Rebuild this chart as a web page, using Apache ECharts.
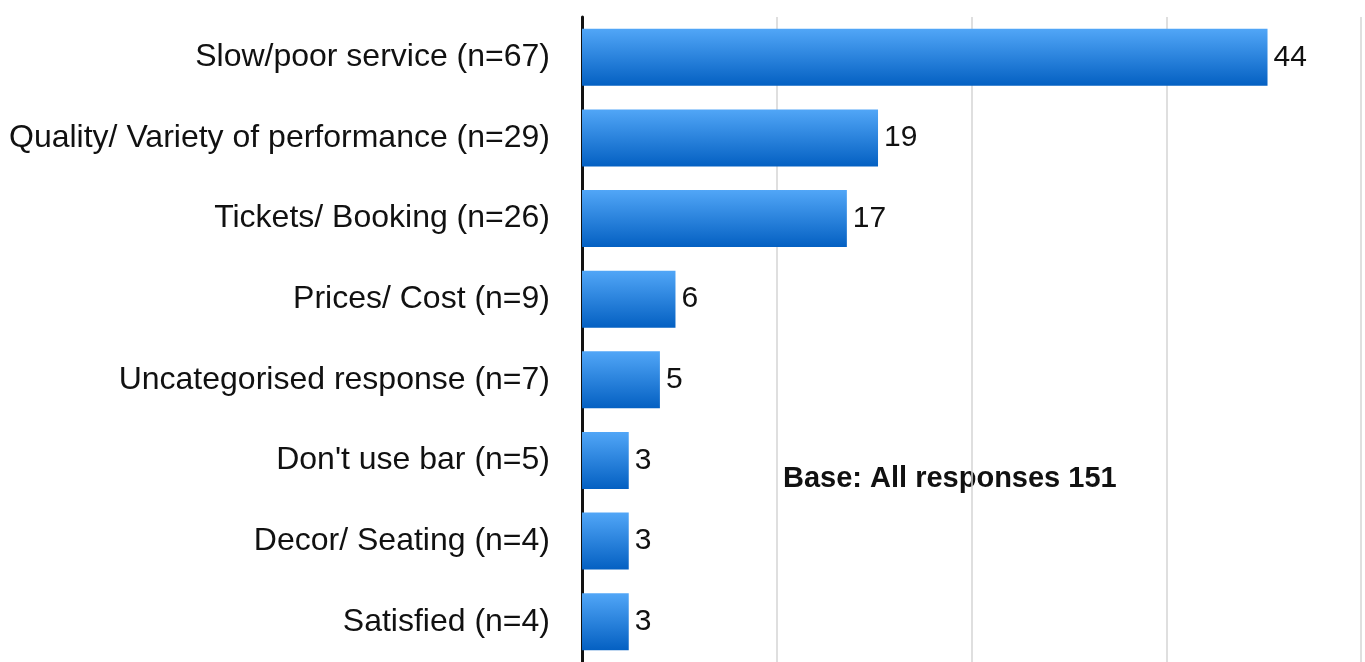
<!DOCTYPE html>
<html>
<head>
<meta charset="utf-8">
<script src="https://cdn.jsdelivr.net/npm/echarts@6/dist/echarts.min.js"></script>
<style>
  html, body { margin: 0; padding: 0; background: #fff; }
  #chart { width: 1365px; height: 662px; }
</style>
</head>
<body>
<div id="chart"></div>
<script>
// categories from top to bottom
const categories = [
  'Slow/poor service (n=67)',
  'Quality/ Variety of performance (n=29)',
  'Tickets/ Booking (n=26)',
  'Prices/ Cost (n=9)',
  'Uncategorised response (n=7)',
  "Don't use bar (n=5)",
  'Decor/ Seating (n=4)',
  'Satisfied (n=4)'
]
const values = [44, 19, 17, 6, 5, 3, 3, 3]
const baseNote = 'Base: All responses 151'

const chart = echarts.init(document.getElementById('chart'))
chart.setOption({
  animation: false,
  textStyle: { fontFamily: '"Liberation Sans", Arial, sans-serif' },
  grid: {
    left: 582,
    right: 4,
    top: 17,
    bottom: -4,
    containLabel: false
  },
  xAxis: {
    type: 'value',
    min: 0,
    max: 50,
    interval: 12.5,
    axisLabel: { show: false },
    axisTick: { show: false },
    axisLine: { show: false },
    splitLine: {
      lineStyle: { color: '#d4d4d4', width: 1.5 }
    }
  },
  yAxis: {
    type: 'category',
    inverse: true,
    data: categories,
    axisTick: { show: false },
    axisLine: {
      lineStyle: { color: '#111', width: 3 }
    },
    axisLabel: {
      color: '#111',
      fontSize: 32,
      margin: 32
    }
  },
  series: [
    {
      type: 'bar',
      data: values,
      barWidth: 57,
      itemStyle: {
        color: new echarts.graphic.LinearGradient(0, 0, 0, 1, [
          { offset: 0, color: '#51a6f7' },
          { offset: 1, color: '#0460c2' }
        ])
      },
      label: {
        show: true,
        position: 'right',
        distance: 6,
        color: '#111',
        fontSize: 30
      }
    }
  ],
  graphic: [
    {
      type: 'text',
      x: 783,
      y: 479,
      style: {
        text: baseNote,
        fill: '#111',
        verticalAlign: 'middle',
        font: 'bold 29px "Liberation Sans", Arial, sans-serif'
      }
    }
  ]
})
</script>
</body>
</html>
